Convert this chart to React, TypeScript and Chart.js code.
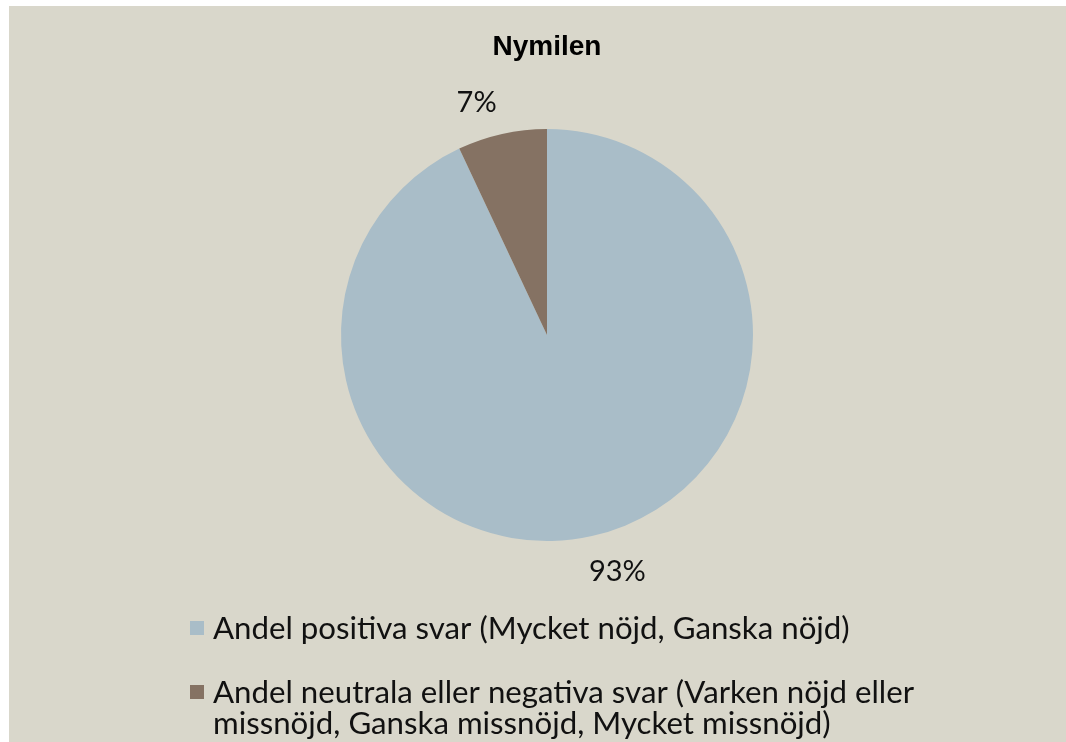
import React, { useEffect, useRef } from "react";
import { Chart, registerables } from "chart.js";

Chart.register(...registerables);

const title = "Nymilen";
const categories = [
  "Andel positiva svar (Mycket nöjd, Ganska nöjd)",
  "Andel neutrala eller negativa svar (Varken nöjd eller missnöjd, Ganska missnöjd, Mycket missnöjd)",
];
const legendLines = [
  ["Andel positiva svar (Mycket nöjd, Ganska nöjd)"],
  ["Andel neutrala eller negativa svar (Varken nöjd eller", "missnöjd, Ganska missnöjd, Mycket missnöjd)"],
];
const values = [93, 7];
const colors = ["#A9BDC8", "#857263"];
const BG = "#D9D7CB";
const FONT = "Lato, 'Open Sans', sans-serif";

const decorPlugin = {
  id: "decor",
  beforeDraw(chart: any) {
    const { ctx, width, height } = chart;
    ctx.save();
    ctx.fillStyle = BG;
    ctx.fillRect(0, 0, width, height);
    ctx.restore();
  },
  afterDraw(chart: any) {
    const { ctx } = chart;
    ctx.save();
    // title
    ctx.fillStyle = "#000";
    ctx.font = "bold 28px 'Liberation Sans', Arial, sans-serif";
    ctx.textAlign = "center";
    ctx.textBaseline = "alphabetic";
    ctx.fillText(title, 538, 49);

    // data labels
    ctx.textBaseline = "middle";
    const meta = chart.getDatasetMeta(0);
    const total = values.reduce((a, b) => a + b, 0);
    ctx.font = `29px ${FONT}`;
    ctx.fillStyle = "#111";
    meta.data.forEach((arc: any, i: number) => {
      const mid = (arc.startAngle + arc.endAngle) / 2;
      const r = arc.outerRadius + 34;
      const c = Math.cos(mid);
      const x = arc.x + c * r + Math.sign(c) * 18;
      const y = arc.y + Math.sin(mid) * r + 2;
      ctx.fillText(Math.round((values[i] / total) * 100) + "%", x, y);
    });

    // legend
    ctx.font = `100px ${FONT}`;
    const w100 = ctx.measureText(legendLines[0][0]).width;
    const fs = (100 * 637) / w100;
    ctx.font = `${fs}px ${FONT}`;
    ctx.textAlign = "left";
    const rows = [[622], [686, 717]];
    legendLines.forEach((lines, i) => {
      ctx.fillStyle = colors[i];
      ctx.fillRect(181, rows[i][0] - 7, 14, 14);
      ctx.fillStyle = "#111";
      lines.forEach((ln, j) => {
        ctx.fillText(ln, 204, rows[i][j] + 1);
      });
    });
    ctx.restore();
  },
};

export default function App() {
  const ref = useRef<HTMLCanvasElement>(null);
  useEffect(() => {
    if (!ref.current) return;
    const chart = new Chart(ref.current, {
      type: "pie",
      data: {
        labels: categories,
        datasets: [
          {
            data: values,
            backgroundColor: colors,
            borderWidth: 0,
          },
        ],
      },
      options: {
        animation: false,
        responsive: false,
        maintainAspectRatio: false,
        layout: { padding: { top: 123, bottom: 201, left: 19, right: 0 } },
        plugins: {
          legend: { display: false },
          tooltip: { enabled: false },
          title: { display: false },
        },
      },
      plugins: [decorPlugin],
    });
    return () => chart.destroy();
  }, []);
  return (
    <div style={{ position: "fixed", left: 9, top: 6, width: 1057, height: 736 }}>
      <canvas ref={ref} width={1057} height={736} style={{ display: "block" }} />
    </div>
  );
}
